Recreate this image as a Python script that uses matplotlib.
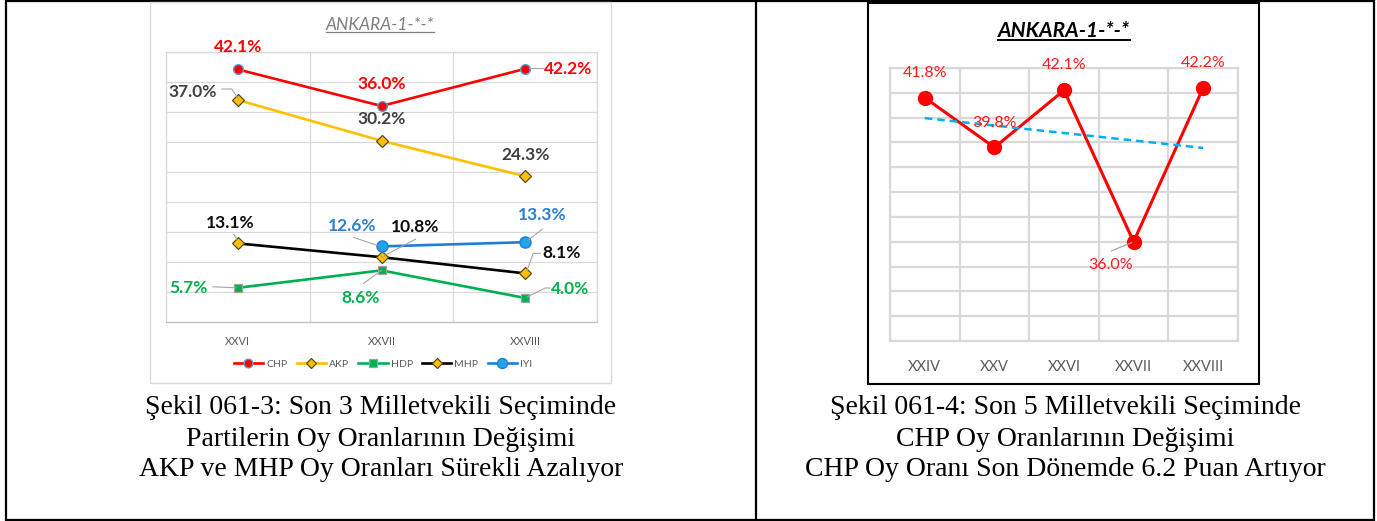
import numpy as np
import matplotlib
matplotlib.use("Agg")
import matplotlib.pyplot as plt
from matplotlib.lines import Line2D
from matplotlib.patches import Rectangle

# ---------------- data ----------------
left_categories = ["XXVI", "XXVII", "XXVIII"]
chp_3 = [42.1, 36.0, 42.2]
akp_3 = [37.0, 30.2, 24.3]
hdp_3 = [5.7, 8.6, 4.0]
mhp_3 = [13.1, 10.8, 8.1]
iyi_3 = [np.nan, 12.6, 13.3]

right_categories = ["XXIV", "XXV", "XXVI", "XXVII", "XXVIII"]
chp_5 = [41.8, 39.8, 42.1, 36.0, 42.2]

left_title = "ANKARA-1-*-*"
right_title = "ANKARA-1-*-*"
left_caption = ["Şekil 061-3: Son 3 Milletvekili Seçiminde",
                "Partilerin Oy Oranlarının Değişimi",
                "AKP ve MHP Oy Oranları Sürekli Azalıyor"]
right_caption = ["Şekil 061-4: Son 5 Milletvekili Seçiminde",
                 "CHP Oy Oranlarının Değişimi",
                 "CHP Oy Oranı Son Dönemde 6.2 Puan Artıyor"]

# ---------------- figure ----------------
W, H = 1377, 521
DPI = 100
fig = plt.figure(figsize=(W / DPI, H / DPI), dpi=DPI)
plt.rcParams['font.family'] = ['Lato', 'DejaVu Sans']

def fx(x):
    return x / W

def fy(y):
    return 1 - y / H

def rect_px(l, t, r, b):
    return [fx(l), fy(b), (r - l) / W, (b - t) / H]

# outer table
fig.add_artist(Rectangle((fx(6), fy(520)), (1374 - 6) / W, (520 - 1) / H,
                         transform=fig.transFigure, fill=False, ec='black', lw=1.6))
fig.add_artist(Line2D([fx(756), fx(756)], [fy(1), fy(520)],
                      transform=fig.transFigure, color='black', lw=1.6))
# chart frames
fig.add_artist(Rectangle((fx(150), fy(383)), (611 - 150) / W, (383 - 2) / H,
                         transform=fig.transFigure, fill=False, ec='#d9d9d9', lw=1.0))
fig.add_artist(Rectangle((fx(868), fy(384)), (1259 - 868) / W, (384 - 3) / H,
                         transform=fig.transFigure, fill=False, ec='black', lw=1.5))

GRID = '#d9d9d9'
LEADER = '#a6a6a6'

# ---------------- left chart ----------------
ax1 = fig.add_axes(rect_px(166, 52, 597, 322))
x3 = np.arange(len(left_categories))
ax1.set_xlim(-0.5, len(left_categories) - 0.5)
ax1.set_ylim(0, 45)
ax1.set_yticks(np.arange(0, 46, 5))
ax1.set_xticks(x3)
ax1.set_xticks(np.arange(-0.5, len(left_categories), 1.0), minor=True)
ax1.set_xticklabels(left_categories, fontsize=8, color='#595959')
ax1.tick_params(axis='x', which='both', length=0, pad=10)
ax1.tick_params(axis='y', length=0, labelleft=False)
ax1.grid(axis='y', color=GRID, lw=0.9)
ax1.grid(axis='x', which='minor', color=GRID, lw=0.9)
ax1.set_axisbelow(True)
for s in ax1.spines.values():
    s.set_color(GRID)
    s.set_linewidth(0.9)
ax1.spines['bottom'].set_color('#bfbfbf')

series = [
    ("CHP", chp_3, dict(color='#ff0000', marker='o', ms=7, mfc='#ff0000', mec='#5b9bd5', mew=1.0)),
    ("AKP", akp_3, dict(color='#ffc000', marker='D', ms=6, mfc='#ffc000', mec='#5a4a1a', mew=0.9)),
    ("HDP", hdp_3, dict(color='#00b050', marker='s', ms=6, mfc='#00b050', mec='#a0a0a0', mew=0.9)),
    ("MHP", mhp_3, dict(color='#000000', marker='D', ms=6, mfc='#ffc000', mec='#5a4a1a', mew=0.9)),
    ("IYI", iyi_3, dict(color='#1f7fd1', marker='o', ms=8, mfc='#22a3ec', mec='#1f7fd1', mew=1.0)),
]
handles = []
for name, vals, st in series:
    h, = ax1.plot(x3, vals, lw=1.9, label=name, zorder=3, **st)
    handles.append(h)

fig.legend(handles=handles, loc='center', bbox_to_anchor=(fx(383), fy(364)),
           ncol=5, frameon=False, fontsize=7.5, handlelength=2.8, columnspacing=0.9,
           handletextpad=0.3, labelcolor='#595959', markerscale=0.9)

# label layout: (series, index, dx, dy, ha, leader offsets in px)
lbl_colors = {"CHP": '#ff0000', "AKP": '#404040', "HDP": '#00b050', "MHP": '#0d0d0d', "IYI": '#2a7fd0'}
vals_by = {"CHP": chp_3, "AKP": akp_3, "HDP": hdp_3, "MHP": mhp_3, "IYI": iyi_3}
left_labels = [
    ("CHP", 0, 0, 22, 'center', None),
    ("CHP", 1, 0, 22, 'center', None),
    ("CHP", 2, 19, 0, 'left', [(4, 1), (18, 1)]),
    ("AKP", 0, -45, 8, 'center', [(-16, 11), (-6, 11), (0, 2)]),
    ("AKP", 1, 0, 22, 'center', None),
    ("AKP", 2, 0, 21, 'center', None),
    ("MHP", 0, -8, 20, 'center', [(-4, 9), (-1, 4)]),
    ("MHP", 1, 34, 30, 'center', [(0, 0), (34, 18)]),
    ("MHP", 2, 17, 20, 'left', [(2, 3), (8, 20), (15, 20)]),
    ("IYI", 1, -29, 20, 'center', [(-28, 9), (-4, 1)]),
    ("IYI", 2, 17, 27, 'center', [(3, 2), (17, 13)]),
    ("HDP", 0, -49, 0, 'center', [(-25, 1), (-2, 0)]),
    ("HDP", 1, -21, -28, 'center', [(-18, -13), (0, 0)]),
    ("HDP", 2, 26, 9, 'left', [(2, 1), (20, 10), (25, 10)]),
]
fig.canvas.draw()
to_fig = fig.transFigure.inverted()
for name, i, dx, dy, ha, leader in left_labels:
    v = vals_by[name][i]
    ax1.annotate(f"{v:.1f}%", (x3[i], v), xytext=(dx, dy), textcoords='offset pixels',
                 ha=ha, va='center', fontsize=12.5, fontweight='bold', color=lbl_colors[name],
                 zorder=5, annotation_clip=False)
    if leader:
        px, py = ax1.transData.transform((x3[i], v))
        pts = [to_fig.transform((px + ox, py + oy)) for ox, oy in leader]
        fig.add_artist(Line2D([p[0] for p in pts], [p[1] for p in pts],
                              transform=fig.transFigure, color=LEADER, lw=0.8, zorder=2))

# ---------------- right chart ----------------
ax2 = fig.add_axes(rect_px(890, 68, 1238, 341))
x5 = np.arange(len(right_categories))
ax2.set_xlim(-0.5, len(right_categories) - 0.5)
ax2.set_ylim(32, 43)
ax2.set_yticks(np.arange(32, 43.5, 1))
ax2.set_xticks(x5)
ax2.set_xticks(np.arange(-0.5, len(right_categories), 1.0), minor=True)
ax2.set_xticklabels(right_categories, fontsize=10.5, color='#595959')
ax2.tick_params(axis='x', which='both', length=0, pad=14)
ax2.tick_params(axis='y', length=0, labelleft=False)
ax2.grid(axis='y', color=GRID, lw=1.6)
ax2.grid(axis='x', which='minor', color=GRID, lw=1.6)
ax2.set_axisbelow(True)
for s in ax2.spines.values():
    s.set_color(GRID)
    s.set_linewidth(1.6)

ax2.plot(x5, chp_5, color='#ff0000', lw=2.2, marker='o', ms=10, mfc='#ff0000', mec='#ff0000', zorder=3)
coef = np.polyfit(x5, chp_5, 1)
ax2.plot(x5, np.polyval(coef, x5), color='#00b0f0', lw=1.8, ls=(0, (3, 2)), zorder=4)

right_labels = [(0, 0, 25, None), (1, 0, 24, None), (2, 0, 25, None),
                (3, -23, -23, [(-22, -9), (-2, -1)]), (4, 0, 25, None)]
fig.canvas.draw()
for i, dx, dy, leader in right_labels:
    v = chp_5[i]
    ax2.annotate(f"{v:.1f}%", (x5[i], v), xytext=(dx, dy), textcoords='offset pixels',
                 ha='center', va='center', fontsize=11.5, color='#ff1a1a', zorder=5,
                 annotation_clip=False)
    if leader:
        px, py = ax2.transData.transform((x5[i], v))
        pts = [to_fig.transform((px + ox, py + oy)) for ox, oy in leader]
        fig.add_artist(Line2D([p[0] for p in pts], [p[1] for p in pts],
                              transform=fig.transFigure, color=LEADER, lw=0.9, zorder=2))

# ---------------- titles with underline ----------------
def underlined(xc, yc, text, color, weight, size, lw):
    t = fig.text(fx(xc), fy(yc), text, ha='center', va='center', fontsize=size,
                 style='italic', fontweight=weight, color=color)
    fig.canvas.draw()
    bb = t.get_window_extent(renderer=fig.canvas.get_renderer())
    x0, x1 = bb.x0 / W, bb.x1 / W
    yl = (bb.y0 + 1) / H
    fig.add_artist(Line2D([x0, x1], [yl, yl], transform=fig.transFigure, color=color, lw=lw))

underlined(380, 25, left_title, '#7f7f7f', 'normal', 12.5, 0.9)
underlined(1064, 31, right_title, '#000000', 'bold', 15, 1.4)

# ---------------- captions ----------------
for k, (lt, rt) in enumerate(zip(left_caption, right_caption)):
    y = 408 + 31 * k
    fig.text(fx(381), fy(y), lt, ha='center', va='center', fontsize=20,
             family='Liberation Serif', color='black')
    fig.text(fx(1065), fy(y), rt, ha='center', va='center', fontsize=20,
             family='Liberation Serif', color='black')

fig.savefig("out.png", dpi=DPI)
